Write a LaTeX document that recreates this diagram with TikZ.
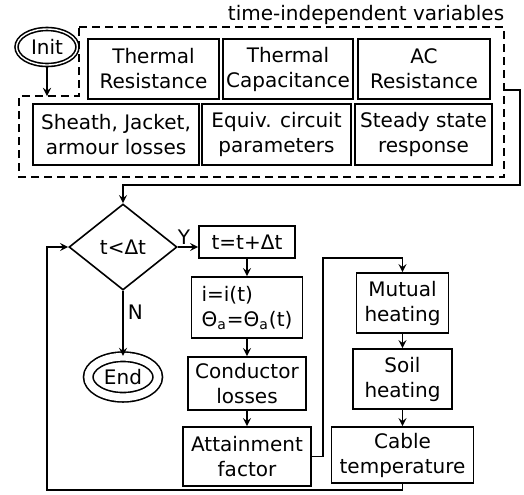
\documentclass[tikz,border=0pt]{standalone}
\usepackage{fontspec}
\setmainfont{DejaVu Sans}
\usetikzlibrary{positioning,shapes,arrows}
\tikzstyle{startstop} = [ellipse, double, draw=black, inner sep=0pt]
\tikzstyle{process} = [rectangle, draw=black, text centered, align=center, inner sep=1pt]
\tikzstyle{decision} = [diamond, draw=black, text centered, inner sep=0pt]
\tikzstyle{group} = [draw=black, dash pattern=on 4pt off 2.5pt]
\tikzstyle{arrow} = [->,>=stealth]

\begin{document}
\begin{tikzpicture}[thick, x=0.5pt, y=-0.5pt, font=\fontsize{10}{12.5}\selectfont]
\useasboundingbox (0,0) rectangle (524,494);
\node (init) [startstop, minimum width=30.5pt, minimum height=18pt, double distance=0.7pt] at (47,47) {Init};
\node (title) [anchor=base east, inner sep=0pt] at (505,20) {time-independent variables};
\draw [group] (79,27) -- (504,27) -- (504,177) -- (19,177) -- (19,96) -- (79,96) -- cycle;
\coordinate (grpin) at (47,96);
\coordinate (grpout) at (504,90);
\draw [arrow] (init) -- (grpin);
\node (tr) [process, minimum width=65.5pt, minimum height=30pt] at (153.5,69) {Thermal\\Resistance};
\node (tc) [process, minimum width=65pt, minimum height=30pt] at (288,69) {Thermal\\Capacitance};
\node (acr) [process, minimum width=66pt, minimum height=30pt] at (424,69) {AC\\Resistance};
\node (sheath) [process, minimum width=83pt, minimum height=30.5pt] at (116,134.5) {Sheath, Jacket,\\armour losses};
\node (equiv) [process, minimum width=74.5pt, minimum height=30.5pt] at (276.5,134.5) {Equiv. circuit\\parameters};
\node (steady) [process, minimum width=68.5pt, minimum height=30.5pt] at (423.5,134.5) {Steady state\\response};
\node (dec) [decision, minimum width=54pt, minimum height=43pt] at (123,247) {t<Δt};
\draw [arrow] (grpout) -| ++(16,95) -| (dec.north);
\node (tt) [process, minimum width=48pt, minimum height=16pt] at (247,242) {t=t+Δt};
\draw [arrow] (dec.east) -- node[above, pos=0.3, inner sep=1pt] {Y} (dec.east -| tt.west);
\node (ii) [process, align=left, minimum width=55.5pt, minimum height=30.5pt] at (247,307.5) {i=i(t)\\Θ\textsubscript{a}=Θ\textsubscript{a}(t)};
\draw [arrow] (tt) -- (ii);
\node (cond) [process, minimum width=59pt, minimum height=26.5pt] at (247,383.5) {Conductor\\losses};
\draw [arrow] (ii) -- (cond);
\node (att) [process, minimum width=64pt, minimum height=29.5pt] at (247,456.5) {Attainment\\factor};
\draw [arrow] (cond) -- (att);
\node (mut) [process, minimum width=46pt, minimum height=30pt] at (402.5,303) {Mutual\\heating};
\coordinate (bend) at (323,258);
\draw [arrow] (att.east) -| (bend) -| (mut.north);
\node (soil) [process, minimum width=49.5pt, minimum height=30pt] at (402.5,379) {Soil\\heating};
\draw [arrow] (mut) -- (soil);
\node (cab) [process, minimum width=71pt, minimum height=28pt] at (402.5,455) {Cable\\temperature};
\draw [arrow] (soil) -- (cab);
\coordinate (back) at (47,490);
\draw [arrow] (cab.south) |- (back) |- (dec.west);
\node (end) [startstop, minimum width=34.75pt, minimum height=20.25pt, double distance=3.9pt] at (123,377) {End};
\draw [arrow] (dec) -- node[right, pos=0.33, inner sep=2pt] {N} (end);
\end{tikzpicture}
\end{document}
